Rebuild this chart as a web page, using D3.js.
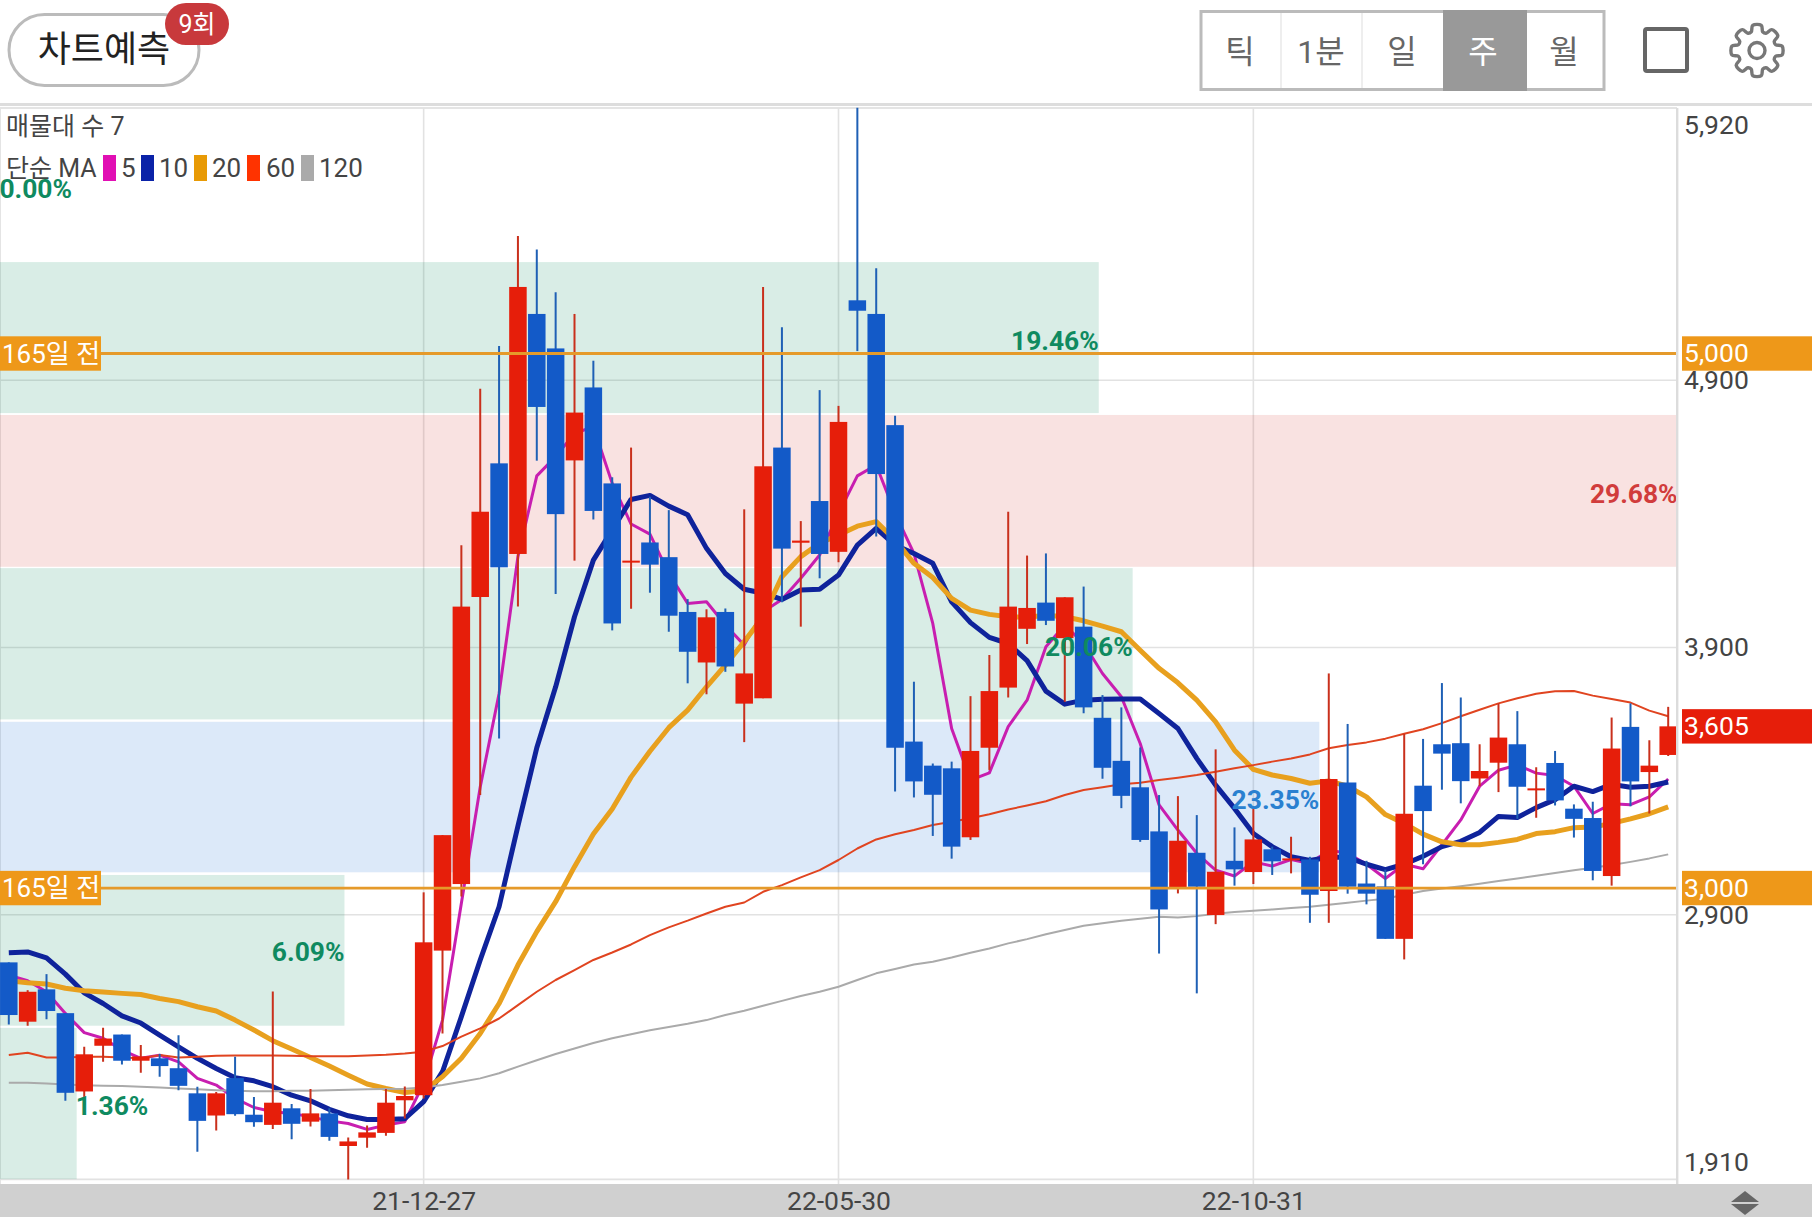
<!DOCTYPE html>
<html><head><meta charset="utf-8">
<script src="https://cdn.jsdelivr.net/npm/d3@7"></script>
<style>
html,body{margin:0;padding:0;background:#fff;overflow:hidden}
text{font-family:Roboto,"Noto Sans CJK KR",sans-serif}
</style></head><body><div id="chart"></div>
<script>
const opens=[2722,2500,2621,2532,2239,2410,2452,2354,2363,2326,2232,2149,2289,2152,2114,2176,2126,2157,2035,2066,2084,2206,2225,2766,3015,4089,4589,4250,5148,5019,4600,4873,4514,4219,4293,4238,4033,3844,4033,3690,3710,4648,4292,4448,4258,5199,5148,4732,3548,3458,3448,3190,3525,3750,3970,4068,3935,3978,3637,3476,3377,3212,3001,3132,2899,3102,3060,3145,3105,3107,2989,3395,3017,3006,2810,3383,3538,3542,3410,3469,3538,3368,3468,3297,3262,3045,3603,3434,3498];
const closes=[2525,2612,2540,2234,2378,2437,2354,2370,2334,2260,2129,2232,2154,2124,2197,2118,2157,2069,2052,2086,2197,2222,2797,3198,4053,4408,4200,5249,4800,4399,4779,4411,3990,4225,4210,4019,3884,4013,3829,3803,4578,4270,4300,4250,4744,5160,4549,3525,3399,3349,3155,3513,3737,4053,4048,4000,4088,3676,3450,3345,3180,2920,3177,3005,3061,3070,3182,3100,3111,2975,3408,3005,2979,2810,3278,3288,3503,3400,3438,3563,3379,3373,3328,3259,3064,3522,3399,3458,3605];
const highs=[2722,2618,2678,2532,2406,2477,2452,2413,2379,2449,2257,2237,2369,2218,2613,2192,2248,2176,2067,2112,2248,2258,2984,3198,4283,4868,5028,5440,5389,5229,5148,4973,4537,4648,4464,4414,4081,4043,4046,4417,5249,5098,4373,4863,4804,5920,5319,4767,3772,3466,3473,3718,3872,4408,4244,4252,4088,4128,3722,3676,3526,3348,3344,3273,3519,3227,3302,3155,3192,3117,3803,3614,3102,3069,3577,3558,3767,3713,3538,3691,3662,3452,3513,3313,3323,3638,3691,3553,3678];
const lows=[2490,2485,2509,2204,2188,2350,2340,2309,2294,2244,2013,2093,2148,2107,2099,2060,2108,2055,1910,2028,2073,2138,2213,2456,2968,3348,3560,4053,4599,4100,4225,4379,3964,4045,4105,3959,3766,3725,3809,3546,3710,4069,3978,4159,4219,5009,4315,3361,3339,3195,3110,3180,3442,3713,3913,3984,3697,3654,3409,3299,3173,2755,2980,2606,2865,3009,3015,3049,3055,2870,2870,2979,2939,2810,2733,3089,3368,3317,3381,3359,3259,3263,3309,3189,3029,3009,3306,3279,3494];
const ma5=[2674,2653,2612,2531,2459,2438,2394,2363,2375,2350,2288,2263,2213,2179,2163,2157,2144,2129,2119,2097,2113,2126,2269,2506,2943,3378,3728,4240,4542,4614,4701,4726,4514,4362,4324,4177,4065,4071,3984,3909,4034,4080,4159,4246,4402,4542,4583,4402,4252,3990,3597,3404,3431,3604,3703,3903,3984,3915,3803,3716,3541,3311,3217,3130,3067,3045,3098,3082,3107,3092,3142,3130,3089,3036,3089,3072,3162,3255,3381,3441,3461,3430,3421,3381,3279,3315,3312,3341,3408];
const ma10=[2758,2761,2739,2678,2608,2568,2522,2495,2450,2406,2363,2325,2290,2279,2257,2225,2204,2172,2148,2134,2134,2137,2201,2313,2519,2731,2930,3232,3525,3753,4015,4227,4340,4454,4469,4429,4397,4271,4177,4118,4103,4080,4115,4118,4171,4283,4346,4283,4252,4215,4071,3993,3938,3915,3851,3737,3688,3703,3706,3707,3707,3653,3597,3485,3385,3298,3204,3155,3117,3103,3115,3115,3089,3069,3089,3119,3155,3175,3208,3268,3264,3301,3331,3381,3361,3388,3377,3381,3397];
const ma20=[2653,2646,2641,2625,2616,2611,2606,2602,2587,2575,2556,2540,2506,2469,2429,2398,2366,2334,2300,2267,2250,2235,2242,2294,2363,2456,2568,2712,2837,2949,3080,3202,3296,3415,3512,3600,3666,3753,3834,3922,4015,4165,4240,4290,4321,4354,4371,4302,4215,4162,4084,4040,4024,4015,4013,4021,4015,4000,3980,3959,3890,3822,3768,3703,3622,3516,3444,3423,3410,3392,3401,3381,3341,3275,3242,3202,3173,3162,3162,3171,3182,3204,3211,3226,3228,3242,3259,3278,3304];
const ma60=[2375,2384,2366,2366,2369,2369,2366,2363,2375,2366,2369,2373,2374,2374,2374,2373,2371,2371,2371,2374,2376,2381,2388,2409,2444,2475,2512,2562,2612,2656,2693,2731,2759,2789,2824,2853,2878,2905,2930,2946,2986,3011,3040,3067,3105,3148,3182,3201,3217,3236,3248,3261,3276,3294,3309,3325,3348,3367,3377,3388,3394,3404,3413,3423,3435,3448,3460,3473,3485,3500,3523,3535,3545,3559,3577,3594,3617,3643,3667,3691,3710,3727,3736,3737,3720,3707,3694,3664,3643];
const ma120=[2272,2272,2269,2265,2262,2260,2259,2257,2254,2250,2247,2244,2242,2240,2240,2242,2242,2244,2245,2247,2248,2249,2254,2263,2275,2288,2307,2332,2356,2379,2400,2420,2438,2453,2468,2480,2492,2506,2525,2541,2560,2578,2596,2612,2631,2656,2681,2697,2714,2724,2740,2758,2774,2793,2809,2827,2843,2859,2868,2878,2885,2893,2890,2895,2904,2910,2915,2920,2925,2930,2938,2945,2953,2960,2975,2989,2998,3007,3016,3026,3036,3046,3056,3067,3076,3086,3098,3111,3126];
const axisTicks=[5920,4900,3900,2900,1910];
const dateIdx=[22,44,66];
const dateLabels=["21-12-27","22-05-30","22-10-31"];
const bandTop=[5342,4770,4197,3622,3049,2477];
const bandBottom=[4777,4202,3631,3059,2485,1911];
const bandEnd=[57.8,88.5,59.6,69.5,17.8,3.6];
const bandKind=["up","down","up","flat","up","up"];
const pctText=["0.00%","19.46%","29.68%","20.06%","23.35%","6.09%","1.36%"];
const pctValue=[5619,5047,4476,3905,3333,2764,2186];
const pctEnd=[3.35,57.8,88.5,59.6,69.5,17.8,7.4];
const pctKind=["up","up","down","up","flat","up","up"];
const levels=[5000,3000];
const levelNames=["165일 전","165일 전"];
const lastPrice=3605;
const legendNames=["5","10","20","60","120"];
const intervals=["틱","1분","일","주","월"];

const C={up:"#e61e0a",dn:"#135ac8",upW:"#c9301c",dnW:"#1f60b5",lvl:"#e59a2a",lvlBox:"#ee9819",grid:"#e2e2e2",txt:"#444"};
const maCols=["#c81eb0","#0f239b","#e8a01e","#e04420","#aaaaaa"];
const swCols=["#e10fb4","#0a22a8","#e89a05","#ff3300","#aaaaaa"];
const maW=[3,5,5,2,2];
const bandFill={up:"rgba(12,138,96,.155)",down:"rgba(212,50,40,.14)",flat:"rgba(40,120,220,.165)"};
const pctFill={up:"#0f8a60",down:"#d13c3c",flat:"#2a80d0"};

const W=1812,H=1217,R=1677,T=107.6,B=1179.4,FS=26.5;
const x=d3.scaleLinear().domain([0,88]).range([8.8,1668.2]);
const y=d3.scaleLinear().domain([1910,5920]).range([B,T]);
const svg=d3.select("#chart").append("svg").attr("width",W).attr("height",H).style("display","block");
svg.append("defs").append("clipPath").attr("id","plot").append("rect").attr("x",0).attr("y",T).attr("width",R).attr("height",B-T+1);

// header
svg.append("rect").attr("x",9).attr("y",14.5).attr("width",190).attr("height",71).attr("rx",35.5).attr("fill","#fff").attr("stroke","#bbb").attr("stroke-width",3);
svg.append("text").attr("x",104).attr("y",49).attr("dy",".36em").attr("text-anchor","middle").attr("font-size",36).attr("fill","#222").text("차트예측");
svg.append("rect").attr("x",165).attr("y",3).attr("width",64).attr("height",42).attr("rx",21).attr("fill","#c8393c");
svg.append("text").attr("x",197).attr("y",24).attr("dy",".36em").attr("text-anchor","middle").attr("font-size",25).attr("fill","#fff").text("9회");

svg.append("rect").attr("x",1201).attr("y",11.5).attr("width",403).attr("height",78).attr("fill","#fff").attr("stroke","#bbb").attr("stroke-width",3);
svg.append("rect").attr("x",1443).attr("y",10).attr("width",84).attr("height",81).attr("fill","#999");
[1281,1362].forEach(d=>svg.append("line").attr("x1",d).attr("x2",d).attr("y1",13).attr("y2",88).attr("stroke","#eee").attr("stroke-width",2));
svg.selectAll(".seg").data(intervals).join("text").attr("class","seg")
  .attr("x",(d,i)=>[1240,1321,1402,1483,1564][i]).attr("y",51).attr("dy",".36em").attr("text-anchor","middle")
  .attr("font-size",32).attr("fill",d=>d==="주"?"#fff":"#666").text(d=>d);
svg.append("rect").attr("x",1645).attr("y",29).attr("width",42).attr("height",42).attr("rx",2).attr("fill","none").attr("stroke","#666").attr("stroke-width",4);
// gear
(function(){
  const cx=1757,cy=50.5,pts=[];
  for(let i=0;i<8;i++){
    const a=i*Math.PI/4-Math.PI/2;
    [[-.30,19.5],[-.17,25.5],[.17,25.5],[.30,19.5]].forEach(p=>pts.push([cx+p[1]*Math.cos(a+p[0]),cy+p[1]*Math.sin(a+p[0])]));
  }
  svg.append("path").attr("d",d3.line().curve(d3.curveCatmullRomClosed.alpha(.5))(pts)).attr("fill","none").attr("stroke","#777").attr("stroke-width",3.4);
  svg.append("circle").attr("cx",cx).attr("cy",cy).attr("r",8).attr("fill","none").attr("stroke","#777").attr("stroke-width",3.4);
})();
svg.append("rect").attr("x",0).attr("y",103).attr("width",W).attr("height",3).attr("fill","#dddddd");

// frame and grid
svg.append("line").attr("x1",0).attr("x2",R).attr("y1",108).attr("y2",108).attr("stroke","#e4e4e4").attr("stroke-width",2);
svg.append("line").attr("x1",.5).attr("x2",.5).attr("y1",108).attr("y2",1185).attr("stroke","#e4e4e4");
svg.selectAll(".hg").data(axisTicks.slice(1)).join("line").attr("class","hg").attr("x1",0).attr("x2",R).attr("y1",d=>y(d)).attr("y2",d=>y(d)).attr("stroke",C.grid).attr("stroke-width",1.6);
svg.selectAll(".vg").data(dateIdx).join("line").attr("class","vg").attr("x1",d=>x(d)).attr("x2",d=>x(d)).attr("y1",108).attr("y2",1185).attr("stroke",C.grid).attr("stroke-width",1.6);

// price-zone bands
const plot=svg.append("g").attr("clip-path","url(#plot)");
plot.selectAll(".band").data(bandTop).join("rect").attr("class","band")
  .attr("x",0).attr("y",d=>y(d)).attr("width",(d,i)=>x(bandEnd[i]))
  .attr("height",(d,i)=>y(bandBottom[i])-y(d)).attr("fill",(d,i)=>bandFill[bandKind[i]]);

// percent labels
svg.selectAll(".pct").data(pctText).join("text").attr("class","pct")
  .attr("x",(d,i)=>x(pctEnd[i])).attr("y",(d,i)=>y(pctValue[i])).attr("dy",".36em")
  .attr("text-anchor","end").attr("font-size",26.4).attr("font-weight",700)
  .attr("fill",(d,i)=>pctFill[pctKind[i]]).text(d=>d);

// moving averages
[ma5,ma10,ma20,ma60,ma120].forEach((s,k)=>{
  plot.append("path").attr("d",d3.line().x((d,i)=>x(i)).y(d=>y(d))(s))
    .attr("fill","none").attr("stroke",maCols[k]).attr("stroke-width",maW[k]).attr("stroke-linejoin","round");
});

// candles
const idx=d3.range(opens.length);
const up=i=>closes[i]>=opens[i];
plot.selectAll(".wick").data(idx).join("line").attr("class","wick")
  .attr("x1",i=>x(i)).attr("x2",i=>x(i)).attr("y1",i=>y(highs[i])).attr("y2",i=>y(lows[i]))
  .attr("stroke",i=>up(i)?C.upW:C.dnW).attr("stroke-width",2);
plot.selectAll(".body").data(idx).join("rect").attr("class","body")
  .attr("x",i=>x(i)-8.75).attr("width",17.5)
  .attr("y",i=>y(Math.max(opens[i],closes[i])))
  .attr("height",i=>Math.max(2,Math.abs(y(opens[i])-y(closes[i]))))
  .attr("fill",i=>up(i)?C.up:C.dn);

// level lines
svg.selectAll(".lvl").data(levels).join("line").attr("class","lvl").attr("x1",0).attr("x2",R)
  .attr("y1",d=>y(d)).attr("y2",d=>y(d)).attr("stroke",C.lvl).attr("stroke-width",2.8);
svg.selectAll(".lvlL").data(levels).join("rect").attr("class","lvlL").attr("x",0).attr("width",101)
  .attr("y",d=>y(d)-17.2).attr("height",34.4).attr("fill",C.lvlBox);
svg.selectAll(".lvlT").data(levelNames).join("text").attr("class","lvlT").attr("x",2).attr("y",(d,i)=>y(levels[i]))
  .attr("dy",".36em").attr("font-size",26).attr("fill","#fff").text(d=>d);

// right axis
svg.append("rect").attr("x",R-1).attr("y",108).attr("width",2.4).attr("height",1077).attr("fill","#dcdcdc");
const ya=svg.append("g").attr("transform",`translate(${R},0)`)
  .call(d3.axisRight(y).tickValues(axisTicks).tickFormat(d3.format(",")).tickSize(0).tickPadding(7));
ya.select(".domain").remove();
ya.selectAll("text").attr("font-size",FS).attr("fill",C.txt).attr("y",d=>d===5920?17:d===1910?-17:0)
  .style("font-family",'Roboto,"Noto Sans CJK KR",sans-serif');
svg.selectAll(".lvlR").data(levels).join("rect").attr("class","lvlR").attr("x",1682).attr("width",130)
  .attr("y",d=>y(d)-17.2).attr("height",34.4).attr("fill",C.lvlBox);
svg.selectAll(".lvlRT").data(levels).join("text").attr("class","lvlRT").attr("x",1684).attr("y",d=>y(d))
  .attr("dy",".32em").attr("font-size",FS).attr("fill","#fff").text(d=>d3.format(",")(d));
svg.append("rect").attr("x",1682).attr("y",y(lastPrice)-17.2).attr("width",130).attr("height",34.4).attr("fill",C.up);
svg.append("text").attr("x",1684).attr("y",y(lastPrice)).attr("dy",".32em").attr("font-size",FS).attr("fill","#fff").text(d3.format(",")(lastPrice));

// bottom bar and date axis
svg.append("rect").attr("x",0).attr("y",1184).attr("width",W).attr("height",33).attr("fill","#d0d0d0");
const xa=svg.append("g").attr("transform","translate(0,1184)")
  .call(d3.axisBottom(x).tickValues(dateIdx).tickFormat((d,i)=>dateLabels[i]).tickSize(0).tickPadding(7));
xa.select(".domain").remove();
xa.selectAll("text").attr("font-size",FS).attr("fill",C.txt).style("font-family",'Roboto,"Noto Sans CJK KR",sans-serif');
svg.append("path").attr("d","M1731 1202L1745 1191L1759 1202Z").attr("fill","#666");
svg.append("path").attr("d","M1731 1204L1745 1215L1759 1204Z").attr("fill","#666");

// legends
svg.append("text").attr("x",6).attr("y",125.5).attr("dy",".36em").attr("font-size",25).attr("fill",C.txt).text("매물대 수 7");
svg.append("text").attr("x",6).attr("y",167.5).attr("dy",".36em").attr("font-size",25).attr("fill",C.txt).text("단순 MA");
const swX=[103,141,194,247,301],lbX=[121,159,212,266,319];
legendNames.forEach((n,i)=>{
  svg.append("rect").attr("x",swX[i]).attr("y",155).attr("width",13).attr("height",26).attr("fill",swCols[i]);
  svg.append("text").attr("x",lbX[i]).attr("y",167.5).attr("dy",".36em").attr("font-size",26).attr("fill",C.txt).text(n);
});
svg.selectAll(".pct").filter(d=>d==="0.00%").raise();
</script></body></html>
